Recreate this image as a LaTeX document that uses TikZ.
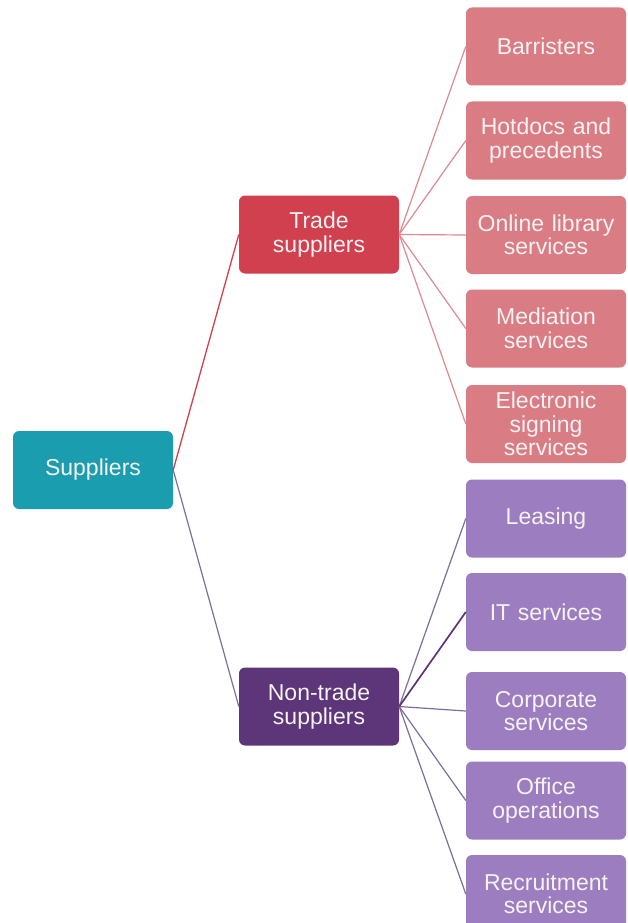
\documentclass[tikz,border=0pt]{standalone}
\usepackage{fontspec}
\setmainfont{Liberation Sans}
\usetikzlibrary{positioning}

\definecolor{rootcol}{HTML}{1A9EAF}
\definecolor{tradecol}{HTML}{D1404E}
\definecolor{tradeleaf}{HTML}{DA7C84}
\definecolor{nontradecol}{HTML}{5C3678}
\definecolor{nontradeleaf}{HTML}{9C7EC0}
\definecolor{tradeline}{HTML}{DB8A91}
\definecolor{nontradeline}{HTML}{7E6E9C}
\definecolor{boxtext}{HTML}{F7F2F2}

\begin{document}
\begin{tikzpicture}[x=1pt,y=-1pt,
    box/.style={rounded corners=6pt, minimum width=160pt, minimum height=78pt,
        inner sep=2pt, text width=156pt, align=center, text=boxtext,
        font=\fontsize{23}{23.5}\selectfont},
    rootbox/.style={box, fill=rootcol},
    tradebox/.style={box, fill=tradecol},
    tleaf/.style={box, fill=tradeleaf},
    nontradebox/.style={box, fill=nontradecol},
    nleaf/.style={box, fill=nontradeleaf},
    tline/.style={draw=tradeline, line width=1.2pt},
    nline/.style={draw=nontradeline, line width=1.2pt}]
    \useasboundingbox (0,0) rectangle (628,923);
    \fill[white] (0,0) rectangle (628,923);
    % levels
    \node[rootbox] (suppliers) at (93,470) {Suppliers};
    \node[tradebox] (trade) at (319,234.5) {Trade\\suppliers};
    \node[nontradebox] (nontrade) at (319,706.5) {Non-trade\\suppliers};
    % trade suppliers
    \node[tleaf] (barristers) at (546,46.5) {Barristers};
    \node[tleaf] (hotdocs) at (546,140.5) {Hotdocs and\\precedents};
    \node[tleaf] (library) at (546,235) {Online library\\services};
    \node[tleaf] (mediation) at (546,328.5) {Mediation\\services};
    \node[tleaf] (signing) at (546,424) {Electronic\\signing\\services};
    % non-trade suppliers
    \node[nleaf] (leasing) at (546,518.5) {Leasing};
    \node[nleaf] (itserv) at (546,612) {IT services};
    \node[nleaf] (corporate) at (546,711) {Corporate\\services};
    \node[nleaf] (office) at (546,800.5) {Office\\operations};
    \node[nleaf] (recruit) at (546,894) {Recruitment\\services};
    % connectors
    \draw[draw=tradecol, line width=1.3pt] (suppliers.east) -- (trade.west);
    \draw[nline] (suppliers.east) -- (nontrade.west);
    \foreach \leaf in {barristers,hotdocs,library,mediation,signing}
        \draw[tline] (trade.east) -- (\leaf.west);
    \foreach \leaf in {leasing,corporate,office,recruit}
        \draw[nline] (nontrade.east) -- (\leaf.west);
    \draw[nline, draw=nontradecol, line width=1.7pt] (nontrade.east) -- (itserv.west);
\end{tikzpicture}
\end{document}
